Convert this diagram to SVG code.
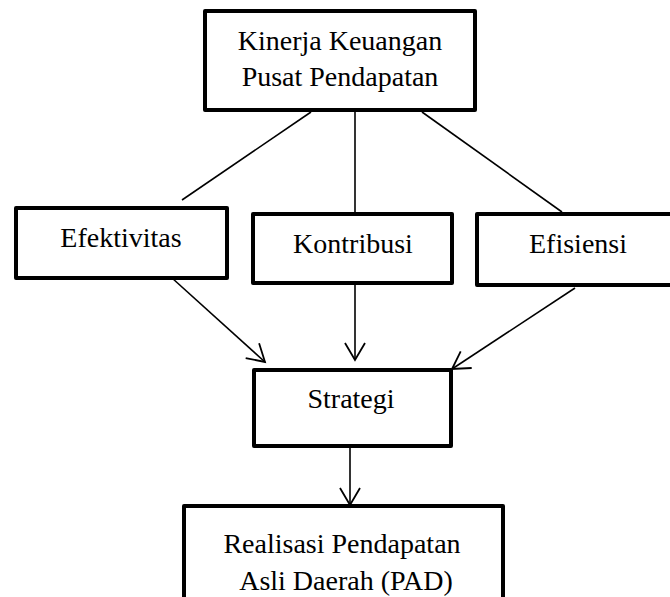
<svg xmlns="http://www.w3.org/2000/svg" width="670" height="597" viewBox="0 0 670 597">
<defs>
<style>
.box{fill:#fff;stroke:#000;stroke-width:4;stroke-linejoin:round}
.c{stroke:#000;stroke-width:1.6;fill:none}
text{font-family:"Times New Roman","Liberation Serif","DejaVu Serif",serif;font-size:28px;fill:#000;text-anchor:middle}
</style>
<marker id="arr" markerUnits="userSpaceOnUse" orient="auto" refX="0" refY="0" markerWidth="24" markerHeight="24" viewBox="-20 -12 22 24" overflow="visible">
<path d="M-17,-10 L0,0 L-17,10" fill="none" stroke="#000" stroke-width="1.8"/>
</marker>
</defs>
<rect width="670" height="597" fill="#fff"/>
<g id="connectors">
<line class="c" x1="311" y1="112" x2="182" y2="200"/>
<line class="c" x1="355" y1="106" x2="355" y2="212"/>
<line class="c" x1="422" y1="112" x2="562" y2="212"/>
<line class="c" x1="172" y1="278" x2="265" y2="362" marker-end="url(#arr)"/>
<line class="c" x1="355" y1="284" x2="355" y2="360" marker-end="url(#arr)"/>
<line class="c" x1="575" y1="288" x2="452" y2="369" marker-end="url(#arr)"/>
<line class="c" x1="350" y1="447" x2="350" y2="505" marker-end="url(#arr)"/>
</g>
<g id="kinerja">
<rect class="box" x="205" y="11" width="270" height="99"/>
<text x="340" y="50">Kinerja Keuangan</text>
<text x="340" y="86">Pusat Pendapatan</text>
</g>
<g id="efektivitas">
<rect class="box" x="16" y="208" width="211" height="70"/>
<text x="121" y="247">Efektivitas</text>
</g>
<g id="kontribusi">
<rect class="box" x="253" y="214" width="199" height="69"/>
<text x="353" y="253">Kontribusi</text>
</g>
<g id="efisiensi">
<rect class="box" x="477" y="214" width="200" height="71"/>
<text x="578" y="253">Efisiensi</text>
</g>
<g id="strategi">
<rect class="box" x="254" y="370" width="197" height="76"/>
<text x="351" y="408">Strategi</text>
</g>
<g id="realisasi">
<rect class="box" x="184" y="506" width="319" height="100"/>
<text x="342" y="553">Realisasi Pendapatan</text>
<text x="346" y="590">Asli Daerah (PAD)</text>
</g>
</svg>
